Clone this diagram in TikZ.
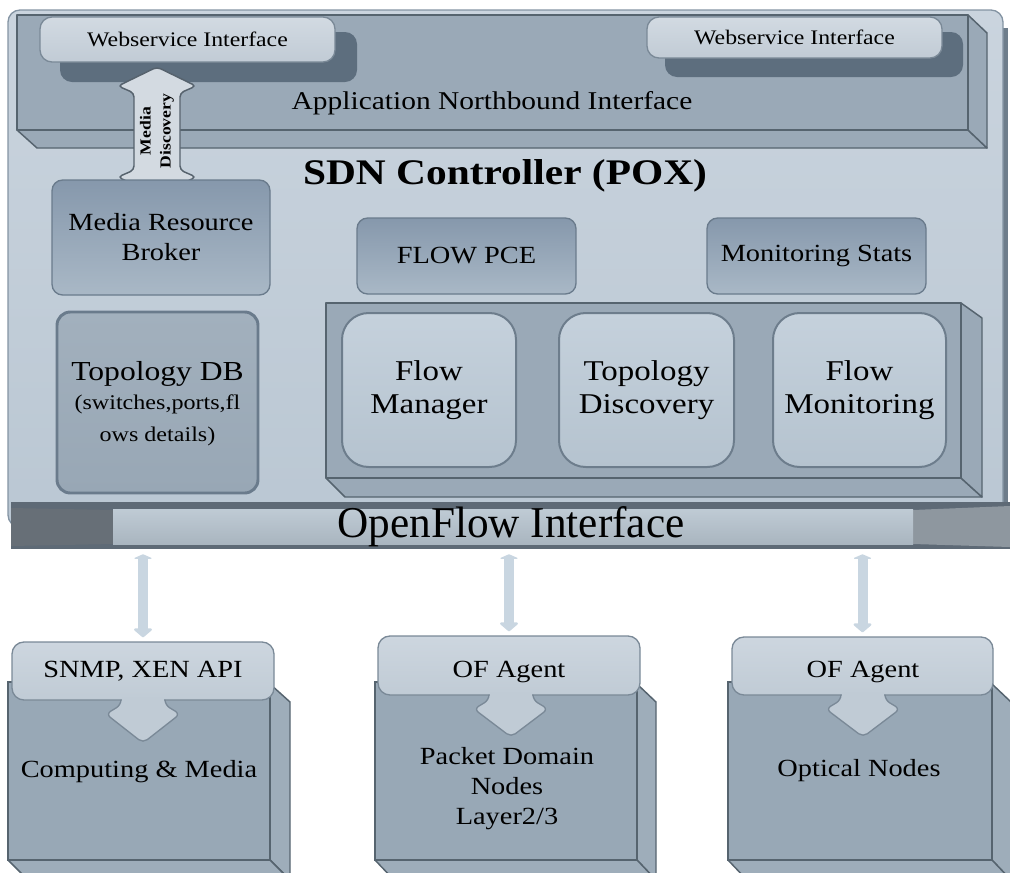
\documentclass[tikz,border=0pt]{standalone}
\usepackage{fontspec}
\setmainfont[FakeStretch=1.15]{Liberation Serif}
\usetikzlibrary{fit,arrows.meta,calc}
\definecolor{outtop}{HTML}{CAD4DE}
\definecolor{outbot}{HTML}{BAC7D3}
\definecolor{outedge}{HTML}{8494A3}
\definecolor{outshadow}{HTML}{6E7D8B}
\definecolor{panelc}{HTML}{9AA9B7}
\definecolor{paneledge}{HTML}{56646F}
\definecolor{wstop}{HTML}{D2DAE2}
\definecolor{wsbot}{HTML}{C1CBD5}
\definecolor{wsedge}{HTML}{7A8997}
\definecolor{wsshadow}{HTML}{5D6E7E}
\definecolor{midtop}{HTML}{8698AC}
\definecolor{midbot}{HTML}{A9B8C6}
\definecolor{midedge}{HTML}{6A7B8C}
\definecolor{dbtop}{HTML}{A2B0BD}
\definecolor{dbbot}{HTML}{98A7B5}
\definecolor{intop}{HTML}{C5D1DC}
\definecolor{inbot}{HTML}{B5C3CF}
\definecolor{inedge}{HTML}{6D7D8C}
\definecolor{oflight}{HTML}{B8C5D0}
\definecolor{ofdark}{HTML}{5E6A76}
\definecolor{ofleft}{HTML}{676F77}
\definecolor{ofright}{HTML}{8E979F}
\definecolor{boxfront}{HTML}{98A8B6}
\definecolor{boxside}{HTML}{9EADBA}
\definecolor{boxedge}{HTML}{56646F}
\definecolor{captop}{HTML}{CDD6DF}
\definecolor{capbot}{HTML}{C0CBD5}
\definecolor{capedge}{HTML}{7A8997}
\definecolor{arrowc}{HTML}{C9D6E1}
\definecolor{mdfill}{HTML}{D3DAE1}
\definecolor{mdedge}{HTML}{56626D}
\newcommand\capTab[3]{%
  \fill[capbot,rounded corners=4pt] (#1-22,#2-3) -- (#1-22,#2+5) -- (#1-37,#2+14) -- (#1,#3) -- (#1+37,#2+14) -- (#1+22,#2+5) -- (#1+22,#2-3) -- cycle;
  \draw[capedge,line width=1pt,rounded corners=4pt] (#1-22,#2) -- (#1-22,#2+5) -- (#1-37,#2+14) -- (#1,#3) -- (#1+37,#2+14) -- (#1+22,#2+5) -- (#1+22,#2);
  \fill[capbot] (#1-21.3,#2-3) rectangle (#1+21.3,#2+3);
}
\tikzset{
  every node/.style={text=black},
  box/.style={inner sep=0pt},
  bodyfont/.style={font=\fontsize{18.5}{22.5}\selectfont},
  panel/.style={fill=panelc, draw=paneledge, line width=1.1pt, line join=round},
  wsfront/.style={box, rounded corners=9pt, top color=wstop, bottom color=wsbot, draw=wsedge, line width=1pt},
  wstext/.style={font=\fontsize{15.5}{18}\selectfont},
  midbox/.style={box, rounded corners=8pt, top color=midtop, bottom color=midbot, draw=midedge, line width=1pt},
  dbbox/.style={box, rounded corners=10pt, top color=dbtop, bottom color=dbbot, draw=midedge, line width=2.2pt},
  innerbox/.style={box, rounded corners=20pt, top color=intop, bottom color=inbot, draw=inedge, line width=1.5pt},
  innertext/.style={align=center, font=\fontsize{21.5}{24.75}\selectfont},
  boxface/.style={fill=boxside, draw=boxedge, line width=1.1pt, line join=round},
  boxfrontst/.style={box, fill=boxfront, draw=boxedge, line width=1.1pt},
  capst/.style={box, rounded corners=9pt, top color=captop, bottom color=capbot, draw=capedge, line width=1pt},
  conn/.style={draw=arrowc, line width=7.5pt, {Triangle[round,length=3.5pt,width=16pt]}-{Triangle[round,length=7pt,width=16pt]}},
}
\begin{document}
\begin{tikzpicture}[x=0.75pt,y=-0.75pt]
\useasboundingbox (0,0) rectangle (1010,872);
\clip (0,0) rectangle (1010,872);
% outer controller box
\fill[outshadow] (995,28) rectangle (1008,505);
\node[fit={(8,10)(1003,527)}, inner sep=0pt, rounded corners=9pt, top color=outtop, bottom color=outbot, draw=outedge, line width=1pt] (ctrl) {};
% application northbound interface panel
\filldraw[panel] (17,130) -- (968,130) -- (987,148) -- (37,148) -- cycle;
\filldraw[panel] (968,15) -- (987,33) -- (987,148) -- (968,130) -- cycle;
\node[fit={(17,15)(968,130)}, inner sep=0pt, panel] (ani) {};
\node[font=\fontsize{19.2}{22}\selectfont] (anitxt) at (492,103) {Application Northbound Interface};
% webservice interfaces
\fill[wsshadow, rounded corners=9pt] (60,32) rectangle (357,82);
\node[wsfront, fit={(40,17)(335,62)}] (ws1) {};
\node[wstext] (ws1txt) at (ws1.center) {Webservice Interface};
\fill[wsshadow, rounded corners=9pt] (665,32) rectangle (963,77);
\node[wsfront, fit={(647,17)(942,58)}] (ws2) {};
\node[wstext] (ws2txt) at (ws2.center) {Webservice Interface};
% media discovery double arrow
\filldraw[fill=mdfill, draw=mdedge, line width=1.1pt, rounded corners=3pt] (157,67) -- (196,86) -- (180,93) -- (180,170) -- (196,177) -- (157,196) -- (118,177) -- (134,170) -- (134,93) -- (118,86) -- cycle;
\node[rotate=90, align=center, font=\bfseries\fontsize{11.5}{15}\selectfont] (md) at (157,131) {Media\\Discovery};
% title
\node[font=\bfseries\fontsize{27}{30}\selectfont] (title) at (505,176) {SDN Controller (POX)};
% middle boxes
\node[midbox, fit={(52,180)(270,295)}] (mrb) {};
\node[bodyfont, align=center] (mrbtxt) at (mrb.center) {Media Resource\\Broker};
\node[midbox, fit={(357,218)(576,294)}] (pce) {};
\node[bodyfont] (pcetxt) at (pce.center) {FLOW PCE};
\node[midbox, fit={(707,218)(926,294)}] (mon) {};
\node[bodyfont] (montxt) at (mon.center) {Monitoring Stats};
% topology DB
\node[dbbox, fit={(57,312)(258,493)}] (tdb) {};
\node[align=center, font=\fontsize{20.6}{24}\selectfont] (tdbtxt) at (157.5,404) {Topology DB\\[-2pt]{\fontsize{15.7}{19.5}\selectfont (switches,ports,fl}\\{\fontsize{15.7}{19.5}\selectfont ows details)}};
% module container
\filldraw[panel] (326,478) -- (961,478) -- (982,497) -- (345,497) -- cycle;
\filldraw[panel] (961,303) -- (982,318) -- (982,497) -- (961,478) -- cycle;
\node[fit={(326,303)(961,478)}, inner sep=0pt, panel] (cont) {};
\node[innerbox, fit={(342,313)(516,467)}] (fm) {};
\node[innertext] (fmtxt) at (fm.center) {Flow\\Manager};
\node[innerbox, fit={(559,313)(734,467)}] (td) {};
\node[innertext] (tdtxt) at (td.center) {Topology\\Discovery};
\node[innerbox, fit={(773,313)(946,467)}] (fmon) {};
\node[innertext] (fmontxt) at (fmon.center) {Flow\\Monitoring};
% openflow interface band
\node[fit={(11,502)(1010,549)}, inner sep=0pt, fill=ofdark] (ofi) {};
\fill[ofleft] (11,508) -- (113,510) -- (113,544) -- (11,546) -- cycle;
\fill[ofright] (913,510) -- (1010,506) -- (1010,547) -- (913,544) -- cycle;
\fill[top color=oflight!90!white, bottom color=oflight!92!black] (113,509) rectangle (913,544);
\node[font=\fontsize{33}{36}\selectfont] (ofitxt) at (511,527) {\scalebox{0.855}[1]{OpenFlow Interface}};
% bottom boxes
\filldraw[boxface] (270,684) -- (290,702) -- (290,880) -- (270,860) -- cycle;
\filldraw[boxface] (8,860) -- (270,860) -- (290,880) -- (28,880) -- cycle;
\node[boxfrontst, fit={(8,682)(270,860)}] (b1) {};
\filldraw[boxface] (637,684) -- (656,702) -- (656,880) -- (637,860) -- cycle;
\filldraw[boxface] (375,860) -- (637,860) -- (656,880) -- (394,880) -- cycle;
\node[boxfrontst, fit={(375,682)(637,860)}] (b2) {};
\filldraw[boxface] (992,684) -- (1011,702) -- (1011,880) -- (992,860) -- cycle;
\filldraw[boxface] (728,860) -- (992,860) -- (1011,880) -- (747,880) -- cycle;
\node[boxfrontst, fit={(728,682)(992,860)}] (b3) {};
% caps
\node[capst, fit={(12,642)(274,700)}] (cap1) {};
\capTab{143}{700}{743}
\node[bodyfont] (cap1txt) at (143,671) {SNMP, XEN API};
\node[capst, fit={(378,636)(640,695)}] (cap2) {};
\capTab{511}{695}{737}
\node[bodyfont] (cap2txt) at (509,672) {OF Agent};
\node[capst, fit={(732,637)(993,695)}] (cap3) {};
\capTab{863}{695}{737}
\node[bodyfont] (cap3txt) at (863,672) {OF Agent};
\node[bodyfont] (b1txt) at (139,772) {Computing \& Media};
\node[bodyfont, align=center] (b2txt) at (507,789) {Packet Domain\\Nodes\\Layer2/3};
\node[bodyfont] (b3txt) at (859,771) {Optical Nodes};
% connectors
\draw[conn] ($(ofi.south -| cap1.north)+(0,5)$) -- ($(cap1.north)+(0,-4)$);
\draw[conn] ($(ofi.south -| cap2.north)+(0,5)$) -- ($(cap2.north)+(0,-4)$);
\draw[conn] ($(ofi.south -| cap3.north)+(0,5)$) -- ($(cap3.north)+(0,-4)$);
\end{tikzpicture}
\end{document}
